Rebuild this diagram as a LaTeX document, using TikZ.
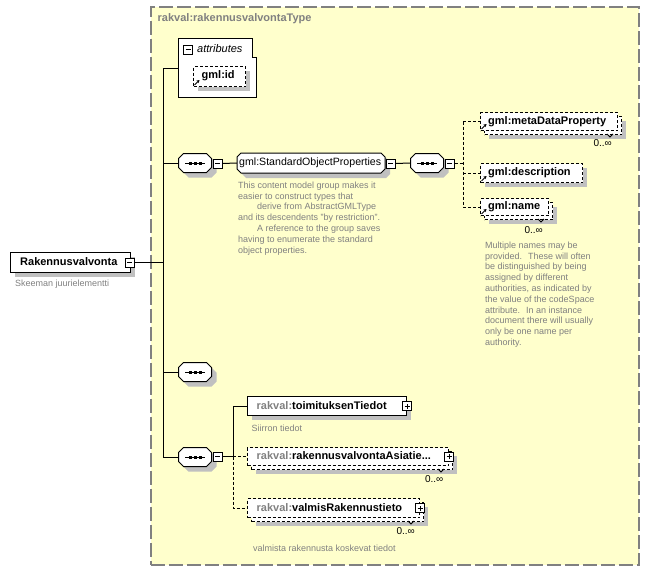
\documentclass[tikz,border=0pt]{standalone}
\usepackage{fontspec}
\setmainfont{Liberation Sans}
\usetikzlibrary{arrows.meta}
\definecolor{bgyellow}{RGB}{255,255,204}
\definecolor{framegray}{RGB}{128,128,128}
\definecolor{shadowgray}{RGB}{192,192,192}
\definecolor{descgray}{RGB}{128,128,128}
\tikzset{
  conn/.style={line width=1pt},
  dconn/.style={line width=1pt, dash pattern=on 3pt off 2pt},
  box/.style={rectangle, draw, fill=white, line width=1pt, inner sep=0, anchor=north west},
  optbox/.style={box, dash pattern=on 3pt off 2pt},
  shadowbox/.style={rectangle, draw=none, fill=shadowgray, inner sep=0, anchor=north west},
  lbl/.style={font=\fontsize{11}{13}\selectfont\bfseries, inner sep=0, anchor=west},
  dsc/.style={font=\fontsize{9}{10.8}\selectfont, text=descgray, align=left, inner sep=0, anchor=north west},
  occ/.style={font=\fontsize{10}{12}\selectfont, inner sep=0, anchor=east},
  pmbox/.style={rectangle, draw, fill=white, line width=1pt, minimum size=9pt, inner sep=0},
  minusbox/.style={pmbox, path picture={\draw[line width=1pt] ([xshift=2pt]path picture bounding box.west) -- ([xshift=-2pt]path picture bounding box.east);}},
  plusbox/.style={pmbox, path picture={\draw[line width=1pt] ([xshift=2pt]path picture bounding box.west) -- ([xshift=-2pt]path picture bounding box.east);
     \draw[line width=1pt] ([yshift=2pt]path picture bounding box.south) -- ([yshift=-2pt]path picture bounding box.north);}},
  anchornode/.style={rectangle, inner sep=0, draw=none},
}
% octagon (chamfered) outline: #1 options, #2 centre, #3 half width, #4 half height, #5 chamfer
\newcommand\octa[5]{%
  \path[#1, shift={(#2)}] ({-#3+#5},{-#4}) -- ({#3-#5},{-#4}) -- ({#3},{-#4+#5}) -- ({#3},{#4-#5})
     -- ({#3-#5},{#4}) -- ({-#3+#5},{#4}) -- ({-#3},{#4-#5}) -- ({-#3},{-#4+#5}) -- cycle;}
% sequence compositor: #1 name, #2 centre
\newcommand\seqnode[2]{%
  \octa{fill=shadowgray, shift={(5,5)}}{#2}{16.5}{9.5}{5}
  \octa{draw, fill=white, line width=1pt}{#2}{16.5}{9.5}{5}
  \node[anchornode, minimum width=33pt, minimum height=19pt] (#1) at (#2) {};
  \draw[line width=1pt] ([xshift=-10pt]#1.center) -- ([xshift=10pt]#1.center);
  \foreach \d in {-5,0,5} \fill ([xshift=\d pt]#1.center) +(-1.5,-1.5) rectangle +(1.5,1.5);}
% element box with shadow: [opts]{name}{x}{y}{w}{h}
\newcommand\elbox[6][]{%
  \node[shadowbox, minimum width=#5pt, minimum height=#6pt] (#2-sh) at ({#3+5},{#4+5}) {};
  \node[box, #1, minimum width=#5pt, minimum height=#6pt] (#2) at (#3,#4) {};}
% stacked (multiple) element box
\newcommand\multibox[5]{%
  \node[shadowbox, minimum width=#4pt, minimum height=#5pt] (#1-sh) at ({#2+9},{#3+9}) {};
  \node[optbox, minimum width=#4pt, minimum height=#5pt] (#1-b) at ({#2+4},{#3+4}) {};
  \node[optbox, minimum width=#4pt, minimum height=#5pt] (#1) at (#2,#3) {};}
\newcommand\refarr[1]{%
  \draw[line width=0.8pt, -{Stealth[length=3pt,width=3.5pt]}] ([shift={(1.5,-2)}]#1.south west) -- ([shift={(6.5,-7)}]#1.south west);}
\newcommand\notch[1]{%
  \draw[line width=0.8pt] ([shift={(-3,0)}]#1) -- ([shift={(0,3)}]#1) -- ([shift={(3,0)}]#1);}
\begin{document}
\begin{tikzpicture}[x=1pt,y=-1pt]
\useasboundingbox (0,0) rectangle (649,570);
% complex type frame
\node[rectangle, draw=framegray, fill=bgyellow, line width=1.5pt, dash pattern=on 14pt off 4pt,
      minimum width=488pt, minimum height=558pt, anchor=north west, inner sep=0] (type) at (150,6) {};
\node[lbl, text=framegray] (type-t) at (157.5,19) {rakval:rakennusvalvontaType};

% root element
\elbox{root}{10}{252}{120}{20}
\node[lbl] (root-t) at (20,262) {Rakennusvalvonta};
\node[minusbox] (root-m) at (129.5,262.5) {};
\node[dsc, anchor=west] (root-d) at (15,284) {Skeeman juurielementti};

% spine
\coordinate (sp-top) at (163,68);
\coordinate (sp-root) at (163,262.5);
\coordinate (sp-bot) at (163,457);
\draw[conn] (root-m.east) -- (sp-root);
\draw[conn] (sp-top) -- (sp-bot);

% attributes
\draw[fill=white, line width=1pt] (178,38) -- (252,38) -- (252,57) -- (256,57) -- (256,97) -- (178,97) -- cycle;
\coordinate (attr) at (178,68);
\draw[conn] (sp-top) -- (attr);
\node[minusbox] (attr-m) at (188,49.5) {};
\node[font=\fontsize{11}{13}\selectfont\itshape, inner sep=0, anchor=west] (attr-t) at (197,49) {attributes};
\elbox[optbox]{gmlid}{193}{66}{52}{20}
\node[lbl] (gmlid-t) at (201.5,76) {gml:id};
\refarr{gmlid}

% sequence 1 and group
\seqnode{seq1}{195,163}
\node[minusbox] (seq1-m) at (217.5,163.5) {};
\draw[conn] (sp-top |- seq1) -- (seq1.west);
\octa{fill=shadowgray, shift={(5,5)}}{311,163}{74}{10}{4}
\octa{draw, fill=white, line width=1pt}{311,163}{74}{10}{4}
\node[anchornode, minimum width=148pt, minimum height=20pt] (grp) at (311,163) {};
\node[font=\fontsize{10.6}{13}\selectfont, inner sep=0, anchor=west] (grp-t) at (239,163) {gml:StandardObjectProperties};
\node[minusbox] (grp-m) at (390.5,163.5) {};
\draw[conn] (seq1-m.east) -- (grp.west);
\node[dsc] (grp-d) at (238,181.5) {This content model group makes it\\easier to construct types that\\\hspace*{19pt}derive from AbstractGMLType\\and its descendents "by restriction".\\\hspace*{19pt}A reference to the group saves\\having to enumerate the standard\\object properties.};

% sequence 2
\seqnode{seq2}{427,163}
\node[minusbox] (seq2-m) at (449.5,163.5) {};
\draw[conn] (grp-m.east) -- (seq2.west);
\coordinate (br1) at (463,163.5);
\coordinate (br1-top) at (463,121.5);
\coordinate (br1-bot) at (463,207);
\draw[dconn] (seq2-m.east) -- (br1);
\draw[dconn] (br1-top) -- (br1-bot);

% gml:metaDataProperty (multiple)
\multibox{meta}{480}{112}{137}{18}
\node[lbl] (meta-t) at (488,121.5) {gml:metaDataProperty};
\refarr{meta}
\coordinate (meta-n) at (610,134);
\notch{meta-n}
\node[occ] (meta-o) at (612,143.5) {0..∞};
\draw[dconn] (br1-top) -- (br1-top -| meta.west);

% gml:description
\elbox[optbox]{desc}{480}{163}{102}{19}
\node[lbl] (desc-t) at (488,172.5) {gml:description};
\refarr{desc}
\draw[dconn] (br1 |- desc.west) -- (desc.west);

% gml:name (multiple)
\multibox{name}{480}{198}{68}{17}
\node[lbl] (name-t) at (488,206.5) {gml:name};
\refarr{name}
\coordinate (name-n) at (541,219);
\notch{name-n}
\node[occ] (name-o) at (543,230) {0..∞};
\draw[dconn] (br1-bot) -- (br1-bot -| name.west);
\node[dsc] (name-d) at (485,241.5) {Multiple names may be\\provided.~ These will often\\be distinguished by being\\assigned by different\\authorities, as indicated by\\the value of the codeSpace\\attribute.~ In an instance\\document there will usually\\only be one name per\\authority.};

% sequence 3 (empty)
\seqnode{seq3}{195,372}
\draw[conn] (sp-top |- seq3) -- (seq3.west);

% sequence 4
\seqnode{seq4}{195,457}
\node[minusbox] (seq4-m) at (217.5,456.5) {};
\draw[conn] (sp-bot) -- (seq4.west);
\coordinate (br2) at (233,456.5);
\draw[conn] (seq4-m.east) -- (br2);

% toimituksenTiedot
\elbox{toim}{247}{396}{159}{19}
\node[lbl] (toim-t) at (256.5,405.5) {\textcolor{framegray}{rakval:}toimituksenTiedot};
\node[plusbox] (toim-p) at (toim.east) {};
\node[dsc, anchor=west] (toim-d) at (251.5,428) {Siirron tiedot};
\draw[conn] (br2) -- (br2 |- toim.west) -- (toim.west);

% rakennusvalvontaAsiatie... (multiple)
\multibox{asiat}{247}{447}{201}{18}
\node[lbl] (asiat-t) at (256.5,456) {\textcolor{framegray}{rakval:}rakennusvalvontaAsiatie...};
\node[plusbox] (asiat-p) at (asiat.east) {};
\coordinate (asiat-n) at (441,469);
\notch{asiat-n}
\node[occ] (asiat-o) at (443.5,479) {0..∞};
\draw[dconn] (br2) -- (br2 -| asiat.west);

% valmisRakennustieto (multiple)
\multibox{valmis}{247}{498}{172}{19}
\node[lbl] (valmis-t) at (256.5,508) {\textcolor{framegray}{rakval:}valmisRakennustieto};
\node[plusbox] (valmis-p) at (valmis.east) {};
\coordinate (valmis-n) at (411,521);
\notch{valmis-n}
\node[occ] (valmis-o) at (415,531.5) {0..∞};
\draw[dconn] (br2) -- (br2 |- valmis.west) -- (valmis.west);
\node[dsc, anchor=west] (valmis-d) at (253,548) {valmista rakennusta koskevat tiedot};
\end{tikzpicture}
\end{document}
